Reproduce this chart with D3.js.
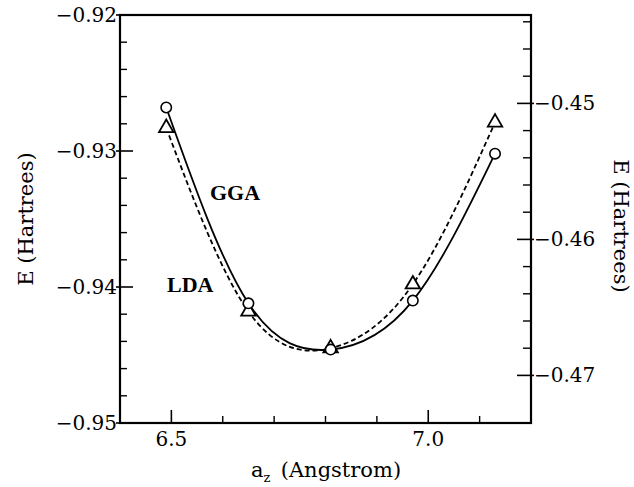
<!DOCTYPE html>
<html>
<head>
    <meta charset="utf-8">
    <title>E vs a_z</title>
    <script src="https://d3js.org/d3.v7.min.js"></script>
    <style>
        body { margin: 0; background: white; }
        text { font-family: "DejaVu Serif", serif; fill: black; }
        .tick-label { font-size: 20px; }
        .axis-title { font-size: 21px; }
        .curve-label { font-family: "Liberation Serif", serif; font-weight: bold; font-size: 22px; }
    </style>
</head>
<body>
    <svg width="634" height="487"></svg>
    <script>
        // 数据
        const aValues = [6.49, 6.65, 6.81, 6.97, 7.13];
        const ggaEnergy = [-0.9268, -0.9412, -0.9446, -0.9410, -0.9302];   // 左轴
        const ldaEnergy = [-0.4518, -0.4653, -0.4680, -0.4633, -0.4514];   // 右轴

        const xTicks = [6.5, 7.0];
        const xTickLabels = ["6.5", "7.0"];
        const xMinorTicks = [6.6, 6.7, 6.8, 6.9, 7.1];
        const leftTicks = [-0.95, -0.94, -0.93, -0.92];
        const leftTickLabels = ["\u22120.95", "\u22120.94", "\u22120.93", "\u22120.92"];
        const rightTicks = [-0.47, -0.46, -0.45];
        const rightTickLabels = ["\u22120.47", "\u22120.46", "\u22120.45"];

        const svg = d3.select("svg");
        const pLeft = 120, pRight = 531, pTop = 15, pBottom = 423;

        const x = d3.scaleLinear().domain([6.4, 7.2]).range([pLeft, pRight]);
        const yL = d3.scaleLinear().domain([-0.95, -0.92]).range([pBottom, pTop]);
        const yR = d3.scaleLinear().domain([-0.4735, -0.4435]).range([pBottom, pTop]);

        // 次刻度
        const leftMinor = d3.range(-0.948, -0.9205, 0.002).filter(v => Math.abs(v * 100 - Math.round(v * 100)) > 1e-6);
        const rightMinor = d3.range(-0.468, -0.4435, 0.002).filter(v => Math.abs(v * 100 - Math.round(v * 100)) > 1e-6);

        const g = svg.append("g");

        // 左轴刻度
        g.selectAll("line.lmaj").data(leftTicks).enter().append("line")
            .attr("x1", pLeft - 4).attr("x2", pLeft + 13)
            .attr("y1", d => yL(d)).attr("y2", d => yL(d))
            .attr("stroke", "black").attr("stroke-width", 1.6);
        g.selectAll("line.lmin").data(leftMinor).enter().append("line")
            .attr("x1", pLeft).attr("x2", pLeft + 7)
            .attr("y1", d => yL(d)).attr("y2", d => yL(d))
            .attr("stroke", "black").attr("stroke-width", 1.4);
        g.selectAll("text.ll").data(leftTicks).enter().append("text")
            .attr("class", "tick-label")
            .attr("x", pLeft - 3).attr("y", d => yL(d))
            .attr("text-anchor", "end").attr("dominant-baseline", "central")
            .text((d, i) => leftTickLabels[i]);

        // 右轴刻度
        g.selectAll("line.rmaj").data(rightTicks).enter().append("line")
            .attr("x1", pRight - 14).attr("x2", pRight + 3)
            .attr("y1", d => yR(d)).attr("y2", d => yR(d))
            .attr("stroke", "black").attr("stroke-width", 1.6);
        g.selectAll("line.rmin").data(rightMinor).enter().append("line")
            .attr("x1", pRight - 8).attr("x2", pRight)
            .attr("y1", d => yR(d)).attr("y2", d => yR(d))
            .attr("stroke", "black").attr("stroke-width", 1.4);
        g.selectAll("text.rl").data(rightTicks).enter().append("text")
            .attr("class", "tick-label")
            .attr("x", pRight + 3).attr("y", d => yR(d))
            .attr("text-anchor", "start").attr("dominant-baseline", "central")
            .text((d, i) => rightTickLabels[i]);

        // x 轴刻度
        g.selectAll("line.xmaj").data(xTicks).enter().append("line")
            .attr("x1", d => x(d)).attr("x2", d => x(d))
            .attr("y1", pBottom).attr("y2", pBottom - 13)
            .attr("stroke", "black").attr("stroke-width", 1.6);
        g.selectAll("line.xmin").data(xMinorTicks).enter().append("line")
            .attr("x1", d => x(d)).attr("x2", d => x(d))
            .attr("y1", pBottom).attr("y2", pBottom - 7)
            .attr("stroke", "black").attr("stroke-width", 1.4);
        g.selectAll("text.xl").data(xTicks).enter().append("text")
            .attr("class", "tick-label")
            .attr("x", d => x(d)).attr("y", pBottom + 23)
            .attr("text-anchor", "middle")
            .text((d, i) => xTickLabels[i]);

        // 边框
        g.append("rect")
            .attr("x", pLeft).attr("y", pTop)
            .attr("width", pRight - pLeft).attr("height", pBottom - pTop)
            .attr("fill", "none").attr("stroke", "black").attr("stroke-width", 2.2);

        // 曲线
        const ggaPts = aValues.map((a, i) => [x(a), yL(ggaEnergy[i])]);
        const ldaPts = aValues.map((a, i) => [x(a), yR(ldaEnergy[i])]);
        const line = d3.line().curve(d3.curveNatural);

        g.append("path").attr("d", line(ldaPts))
            .attr("fill", "none").attr("stroke", "black")
            .attr("stroke-width", 1.8).attr("stroke-dasharray", "5,3");
        g.append("path").attr("d", line(ggaPts))
            .attr("fill", "none").attr("stroke", "black")
            .attr("stroke-width", 1.8);

        // 标记
        g.selectAll("path.tri").data(ldaPts).enter().append("path")
            .attr("d", d3.symbol().type(d3.symbolTriangle).size(90))
            .attr("transform", d => `translate(${d[0]},${d[1]})`)
            .attr("fill", "white").attr("stroke", "black").attr("stroke-width", 1.8);
        g.selectAll("circle.pt").data(ggaPts).enter().append("circle")
            .attr("cx", d => d[0]).attr("cy", d => d[1]).attr("r", 5.2)
            .attr("fill", "white").attr("stroke", "black").attr("stroke-width", 1.6);

        // 曲线标签
        g.append("text").attr("class", "curve-label").attr("x", 210).attr("y", 200).text("GGA");
        g.append("text").attr("class", "curve-label").attr("x", 167).attr("y", 292).text("LDA");

        // 轴标题
        g.append("text").attr("class", "axis-title")
            .attr("transform", "translate(33,219) rotate(-90)")
            .attr("text-anchor", "middle").text("E (Hartrees)");
        g.append("text").attr("class", "axis-title")
            .attr("transform", "translate(614,226) rotate(90)")
            .attr("text-anchor", "middle").text("E (Hartrees)");
        const xt = g.append("text").attr("class", "axis-title")
            .attr("x", 326).attr("y", 477).attr("text-anchor", "middle");
        xt.append("tspan").text("a");
        xt.append("tspan").attr("dy", 5).attr("font-size", 13).text("z");
        xt.append("tspan").attr("dy", -5).text("\u2002(Angstrom)");
    </script>
</body>
</html>
